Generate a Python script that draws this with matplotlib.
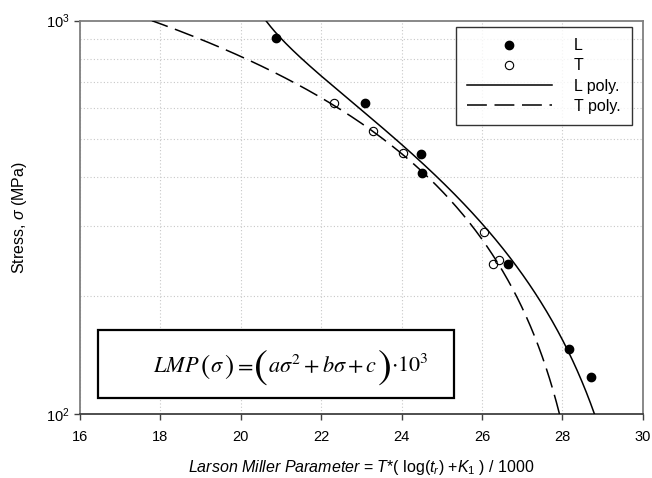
import numpy as np
import matplotlib
matplotlib.use('Agg')
import matplotlib.pyplot as plt
from matplotlib.patches import Rectangle
from matplotlib.ticker import LogLocator, NullFormatter, FixedLocator

plt.rcParams['font.family'] = ['Liberation Sans', 'DejaVu Sans']
plt.rcParams['mathtext.fontset'] = 'custom'
plt.rcParams['mathtext.rm'] = 'Liberation Sans'
plt.rcParams['mathtext.it'] = 'Liberation Sans:italic'

# measured points (LMP, stress in MPa)
L_lmp = [20.87, 23.10, 24.49, 24.50, 26.66, 28.17, 28.72]
L_sig = [902, 617, 458, 411, 241, 146, 124]
T_lmp = [22.32, 23.29, 24.03, 26.06, 26.27, 26.42]
T_sig = [617, 523, 460, 291, 241, 246]

# quadratic fits LMP = a*s^2 + b*s + c
L_coef = [6.59e-6, -0.01633, 30.367]
T_coef = [-6.15e-7, -0.010591, 28.995]

fig = plt.figure(figsize=(6.52, 4.78), dpi=100)
ax = fig.add_axes([0.1227, 0.1339, 0.8630, 0.8228])

s = np.logspace(2, 3, 400)
ax.plot(np.polyval(L_coef, s), s, color='black', lw=1.1, label='L poly.', zorder=3)
ax.plot(np.polyval(T_coef, s), s, color='black', lw=1.1, dashes=(13, 5),
        label='T poly.', zorder=3)
ax.plot(L_lmp, L_sig, 'o', color='black', ms=6, ls='none', label='L', zorder=4)
ax.plot(T_lmp, T_sig, 'o', mfc='none', mec='black', mew=0.8, ms=6, ls='none',
        label='T', zorder=4)

ax.set_yscale('log')
ax.set_xlim(16, 30)
ax.set_ylim(100, 1000)
ax.set_xticks(np.arange(16, 31, 2))
ax.yaxis.set_major_locator(FixedLocator([100, 1000]))
ax.yaxis.set_minor_locator(LogLocator(base=10, subs=np.arange(2, 10)))
ax.yaxis.set_minor_formatter(NullFormatter())
ax.tick_params(axis='y', which='minor', length=0)
ax.tick_params(axis='both', which='major', labelsize=10.5, length=4.5,
               width=1.0, color='#404040')
ax.tick_params(axis='x', pad=7)
ax.tick_params(axis='y', pad=3)

ax.grid(True, axis='x', which='major', color='#c8c8c8', ls=(0, (1, 2)), lw=0.8)
ax.grid(True, axis='y', which='minor', color='#c8c8c8', ls=(0, (1, 2)), lw=0.8)
ax.set_axisbelow(True)

for side in ['left', 'top', 'right']:
    ax.spines[side].set_color('#7f7f7f')
    ax.spines[side].set_linewidth(1.3)
ax.spines['bottom'].set_color('#404040')
ax.spines['bottom'].set_linewidth(1.3)

ax.set_xlabel(r'$Larson\ Miller\ Parameter$ = $T$*( log($t_r$) +$K_1$ ) / 1000',
              fontsize=11.5, labelpad=10)
ax.set_ylabel(r'Stress, $\sigma$ (MPa)', fontsize=11.5, labelpad=12)

handles, labels = ax.get_legend_handles_labels()
order = [2, 3, 0, 1]
leg = ax.legend([handles[i] for i in order], [labels[i] for i in order],
                loc='upper right', bbox_to_anchor=(0.981, 0.984), borderaxespad=0,
                fancybox=False, fontsize=11.5, handlelength=5.3, handletextpad=1.4,
                labelspacing=0.33, borderpad=0.7)
leg.get_frame().set_edgecolor('black')
leg.get_frame().set_linewidth(1.0)

ax.add_patch(Rectangle((0.0315, 0.040), 0.6337, 0.1737, transform=ax.transAxes,
                       fill=True, facecolor='white', edgecolor='black', lw=1.6,
                       zorder=5))

# equation typed piece by piece so the brackets can be drawn taller
eq_parts = [(r'$LMP$', 16, 0), (r'$($', 20, -1.3), (r'$\sigma$', 16, 0),
            (r'$)$', 20, -1.3), (r'$=$', 16, 0), (r'$($', 30, -4.3),
            (r'$a\sigma^2+b\sigma+c$', 16, 0), (r'$)$', 30, -4.3),
            (r'$\cdot10^3$', 16, 0)]
renderer = fig.canvas.get_renderer()
pt = fig.dpi / 72.0
texts = []
x = 0.0
for txt, fs, dy in eq_parts:
    t = fig.text(0, 0, txt, fontsize=fs, math_fontfamily='stix', va='baseline',
                 ha='left', transform=None, zorder=6)
    w = t.get_window_extent(renderer).width
    texts.append((t, x, dy))
    x += w
cx, base_y = 291.0, 478 - 372.0
for t, xo, dy in texts:
    t.set_position((cx - x / 2 + xo, base_y + dy * pt))

fig.savefig('out.png', dpi=100)
